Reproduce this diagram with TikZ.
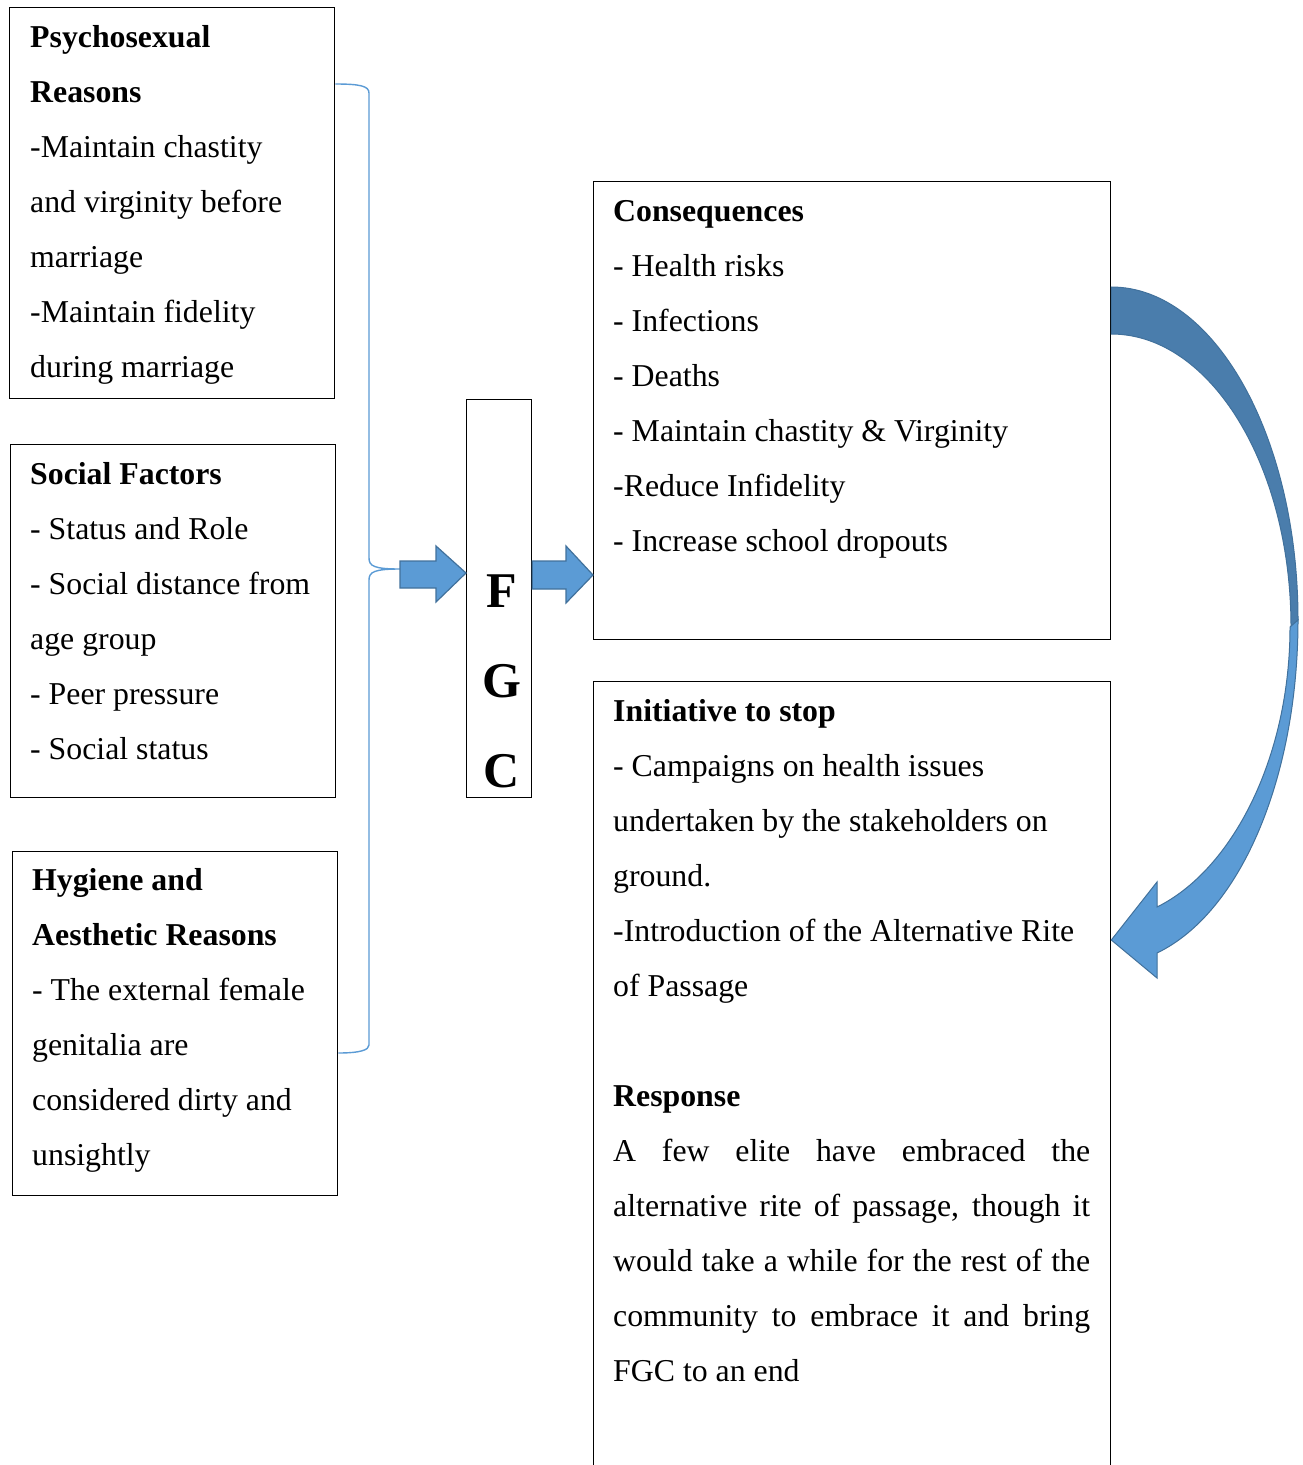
\documentclass[tikz,border=0pt]{standalone}
\usepackage{fontspec}
\setmainfont{Liberation Serif}
\usetikzlibrary{calc}
\definecolor{arrfill}{HTML}{5B9BD5}
\definecolor{arrline}{HTML}{41719C}
\definecolor{arrdark}{HTML}{4A7DAC}
\begin{document}
\begin{tikzpicture}[x=1pt,y=-1pt,
  box/.style={draw=black, line width=1.3pt, inner sep=0pt, anchor=north west},
  txt/.style={inner sep=0pt, anchor=north west, align=left, font=\fontsize{31.8}{55}\selectfont},
  bigtxt/.style={inner sep=0pt, anchor=north, align=center, font=\fontsize{50}{90}\selectfont\bfseries},
  blockarrow/.style={fill=arrfill, draw=arrline, line width=1.2pt, line join=miter},
  bracestyle/.style={draw=arrfill, line width=1.4pt}]
\useasboundingbox (0,0) rectangle (1302,1465);
\fill[white] (0,0) rectangle (1302,1465);
\begin{scope}
\clip (0,0) rectangle (1302,1465);

% boxes
\node[box, minimum width=325pt, minimum height=391pt] (psy) at (9,7) {};
\node[box, minimum width=325pt, minimum height=353pt] (soc) at (10,444) {};
\node[box, minimum width=325pt, minimum height=344pt] (hyg) at (12,851) {};
\node[box, minimum width=65pt, minimum height=398pt] (fgc) at (466,399) {};
\node[box, minimum width=517pt, minimum height=458pt] (cons) at (593,181) {};
\node[box, minimum width=517pt, minimum height=820pt] (init) at (593,681) {};

% texts
\node[txt] (psytxt) at (30,8.5) {\strut\textbf{Psychosexual}\\ \textbf{Reasons}\\ -Maintain chastity\\ and virginity before\\ marriage\\ -Maintain fidelity\\ during marriage};
\node[txt] (soctxt) at (30,445.5) {\strut\textbf{Social Factors}\\ - Status and Role\\ - Social distance from\\ age group\\ - Peer pressure\\ - Social status};
\node[txt] (hygtxt) at (32,851.5) {\strut\textbf{Hygiene and}\\ \textbf{Aesthetic Reasons}\\ - The external female\\ genitalia are\\ considered dirty and\\ unsightly};
\node[txt] (constxt) at (613,182.5) {\strut\textbf{Consequences}\\ - Health risks\\ - Infections\\ - Deaths\\ - Maintain chastity \& Virginity\\ -Reduce Infidelity\\ - Increase school dropouts};
\node[txt] (inittxt) at (613,682.5) {\strut\textbf{Initiative to stop}\\ - Campaigns on health issues\\ undertaken by the stakeholders on\\ ground.\\ -Introduction of the Alternative Rite\\ of Passage\\ \strut\\ \textbf{Response}\\
\makebox[477pt][s]{A few elite have embraced the}\\
\makebox[477pt][s]{alternative rite of passage, though it}\\
\makebox[477pt][s]{would take a while for the rest of the}\\
\makebox[477pt][s]{community to embrace it and bring}\\
FGC to an end};
\node[bigtxt] (fgctxt) at (501.5,544) {\strut F\\ G\\ C};

% brace
\coordinate (btop) at (psy.east |- 0,84);
\coordinate (bbot) at (hyg.east |- 0,1053);
\coordinate (btip) at (400,569);
\draw[bracestyle] (btop) .. controls (360,84) and (369,86) .. (369,93) -- (369,558)
  .. controls (369,566) and (374,569) .. (btip)
  .. controls (374,569) and (369,572) .. (369,580) -- (369,1045)
  .. controls (369,1050) and (360,1053) .. (bbot);

% block arrows
\draw[blockarrow] (btip |- 0,561) -- (436,561) -- (436,546) -- (fgc.west |- 0,573) -- (436,602) -- (436,588) -- (btip |- 0,588) -- cycle;
\draw[blockarrow] (fgc.east |- 0,561) -- (566,561) -- (566,546) -- (cons.west |- 0,575) -- (566,603) -- (566,589) -- (fgc.east |- 0,589) -- cycle;

% curved arrow
\draw[fill=arrdark, draw=arrline, line width=1pt] (cons.east |- 0,287) .. controls (1214,287) and (1298,436) .. (1298,620)
  -- (1291,627) .. controls (1291,465) and (1210,334) .. (cons.east |- 0,334) -- cycle;
\draw[fill=arrfill, draw=arrline, line width=1pt, line join=miter] (1298,620) .. controls (1298,775) and (1242,912) .. (1157,953)
  -- (1157,978) -- (init.east |- 0,940) -- (1157,882) -- (1157,907)
  .. controls (1232,870) and (1290,758) .. (1290,627) -- cycle;
\end{scope}
\end{tikzpicture}
\end{document}
